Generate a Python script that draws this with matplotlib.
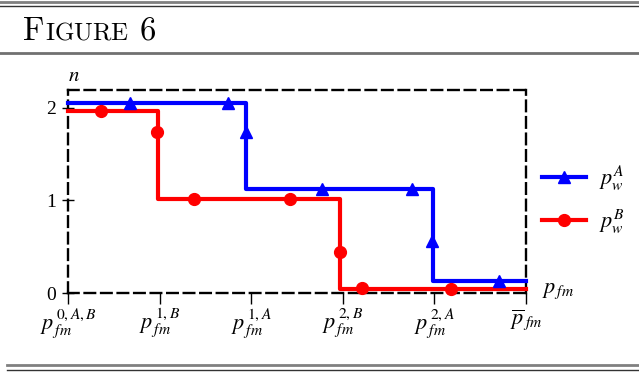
import matplotlib
matplotlib.use("Agg")
import matplotlib.pyplot as plt
from matplotlib.lines import Line2D

plt.rcParams['mathtext.fontset'] = 'stix'
plt.rcParams['font.family'] = 'Liberation Serif'

# step curves
blue_x = [0, 1.94, 1.94, 3.98, 3.98, 5.0]
blue_y = [2.05, 2.05, 1.12, 1.12, 0.13, 0.13]
red_x = [0, 0.98, 0.98, 2.97, 2.97, 5.0]
red_y = [1.96, 1.96, 1.01, 1.01, 0.04, 0.04]

# marker positions
blue_mx = [0.68, 1.75, 1.94, 2.77, 3.76, 3.97, 4.71]
blue_my = [2.05, 2.05, 1.74, 1.12, 1.12, 0.56, 0.13]
red_mx = [0.36, 0.97, 1.38, 2.42, 2.97, 3.21, 4.18]
red_my = [1.96, 1.74, 1.01, 1.01, 0.44, 0.05, 0.04]

xticks = [0, 1, 2, 3, 4, 5]
xtick_labels = [r'$p^{\,0,A,B}_{\,fm}$', r'$p^{\,1,B}_{\,fm}$', r'$p^{\,1,A}_{\,fm}$',
                r'$p^{\,2,B}_{\,fm}$', r'$p^{\,2,A}_{\,fm}$', r'$\overline{p}_{\,fm}$']
yticks = [0, 1, 2]
ytick_labels = ['0', '1', '2']

W, H = 639, 376
fig = plt.figure(figsize=(W / 100, H / 100), dpi=100)

def fx(px):
    return px / W

def fy(py):
    return 1 - py / H

# frame lines
for y, lw, c, x0 in [(1.5, 2.0, '#808080', 0), (5.5, 1.0, '#333333', 0),
                     (52.5, 2.0, '#707070', 0),
                     (364.5, 2.0, '#808080', 7), (369.5, 1.0, '#333333', 7)]:
    fig.add_artist(Line2D([fx(x0), 1], [fy(y), fy(y)], color=c, lw=lw))

# small caps header
fig.canvas.draw()
renderer = fig.canvas.get_renderer()
xpos = 22
for s, size in [(r'$\mathrm{F}$', 23.5), (r'$\mathrm{IGURE}$', 18),
                (r'$\mathrm{\ 6}$', 23.5)]:
    t = fig.text(fx(xpos), fy(40), s, fontsize=size, math_fontfamily='cm',
                 va='baseline', ha='left')
    bb = t.get_window_extent(renderer)
    xpos += bb.width + 1

ax = fig.add_axes([fx(68), fy(293), fx(526 - 68), (293 - 90) / H])
ax.set_xlim(0, 5)
ax.set_ylim(0, 2.19)
ax.patch.set_visible(False)

for sp in ax.spines.values():
    sp.set_linestyle((0, (4.5, 2.5)))
    sp.set_linewidth(1.7)
    sp.set_color('black')

ax.plot(blue_x, blue_y, color='#0000ff', lw=3, clip_on=False, zorder=3)
ax.plot(blue_mx, blue_my, ls='none', marker='^', ms=8, color='#0000ff',
        clip_on=False, zorder=4)
ax.plot(red_x, red_y, color='#ff0000', lw=3, clip_on=False, zorder=3)
ax.plot(red_mx, red_my, ls='none', marker='o', ms=8.5, color='#ff0000',
        clip_on=False, zorder=4)

ax.set_xticks(xticks)
ax.set_xticklabels(xtick_labels, fontsize=16)
ax.set_yticks(yticks)
ax.set_yticklabels(ytick_labels, fontsize=14)
ax.tick_params(axis='x', direction='out', length=8, width=1, pad=2)
ax.tick_params(axis='y', direction='inout', length=9, width=1, pad=4)

ax.text(0.0, 2.34, r'$n$', fontsize=15, ha='left', va='center')
ax.text(5.18, 0.02, r'$p_{\,fm}$', fontsize=16, ha='left', va='center')

h1 = Line2D([], [], color='#0000ff', lw=3, marker='^', ms=8)
h2 = Line2D([], [], color='#ff0000', lw=3, marker='o', ms=8.5)
ax.legend([h1, h2], [r'$p_w^A$', r'$p_w^B$'], loc='center left',
          bbox_to_anchor=(1.0, 0.46), frameon=False, fontsize=16,
          handlelength=2.0, handletextpad=0.6, labelspacing=0.65,
          borderaxespad=0.7, borderpad=0, markerscale=1)

fig.savefig('out.png', dpi=100)
